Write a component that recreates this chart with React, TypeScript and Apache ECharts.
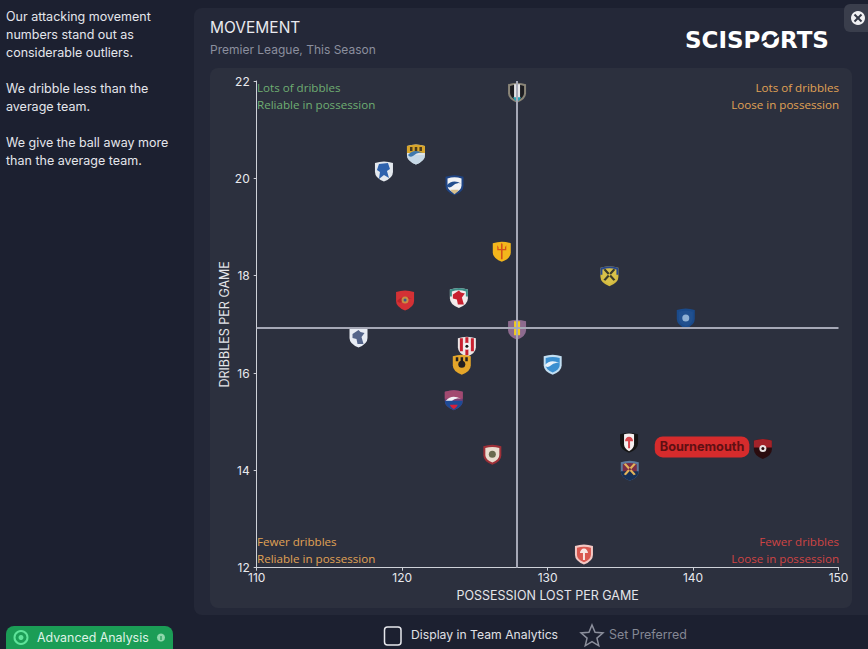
import React, { useEffect, useRef } from "react";
import * as echarts from "echarts";

const teams = ["Newcastle","Watford","Everton","Palace","United","Leeds","Arsenal","Liverpool","Chelsea","Spurs","Villa","Sunderland","Wolves","Brighton","Palace2","Brentford","Fulham","West Ham","Bournemouth","Forest"];
const possessionLost = [127.9,120.95,118.75,123.6,126.85,134.25,120.2,123.9,139.5,117.0,127.9,124.45,124.1,130.35,123.55,126.2,135.6,135.65,144.8,132.5];
const dribbles = [21.77,20.5,20.15,19.87,18.5,18.0,17.5,17.55,17.13,16.74,16.9,16.55,16.18,16.18,15.45,14.33,14.58,14.0,14.45,12.28];
const averagePossessionLost = 127.9;
const averageDribbles = 16.93;
const highlightTeam = "Bournemouth";
const sideNotes = ["Our attacking movement","numbers stand out as","considerable outliers.","","We dribble less than the","average team.","","We give the ball away more","than the average team."];

const SHAPES: Record<string, string> = {
  shield: "M-9 -8 Q0 -11 9 -8 L9 1 Q9 7 0 10.5 Q-9 7 -9 1 Z",
  inner: "M-7 -6.2 Q0 -8.5 7 -6.2 L7 .8 Q7 5.5 0 8.2 Q-7 5.5 -7 .8 Z",
  narrow: "M-5 -8 Q0 -9.5 5 -8 L5 2 Q5 6 0 9 Q-5 6 -5 2 Z",
  top: "M-9 -8 Q0 -11 9 -8 L9 -1 L-9 -1 Z",
  bottom: "M-9 1 L9 1 Q9 7 0 10.5 Q-9 7 -9 1 Z",
  tip: "M-4 5 L4 5 Q3 8 0 9.5 Q-3 8 -4 5 Z",
  stripes: "M-7 -8 h3 v13 h-3 z M-1.5 -9 h3 v18 h-3 z M4 -8 h3 v13 h-3 z",
  bar: "M-3 -8 h6 v14 h-6 z",
  dot: "M-3.5 0 a3.5 3.5 0 1 0 7 0 a3.5 3.5 0 1 0 -7 0 z",
  pip: "M-1.5 0 a1.5 1.5 0 1 0 3 0 a1.5 1.5 0 1 0 -3 0 z",
  trident: "M-.8 8 V-1 H-4.5 V-6 L-3.2 -4 V-2.4 H-.8 V-7 L0 -8.5 L.8 -7 V-2.4 H3.2 V-4 L4.5 -6 V-1 H.8 V8 Z",
  bird: "M-6 -3 L0 -7 L2 -5 L6 -4 L3 0 L5 7 L-1 7 L-2 2 L-6 1 Z",
  lion: "M-5 -7 L4 -8 L6 -2 L3 0 L5 7 L0 4 L-5 8 L-4 1 L-7 -1 Z",
  hammers: "M-6 -6 L-4 -7 L6 4 L4 5 Z M6 -6 L4 -7 L-6 4 L-4 5 Z",
  wave: "M-8 1 Q-2 -6 7 -1 Q2 -3 -3 2 Q-6 4 -8 1 Z",
  tree: "M-4 -1 a4 4.5 0 1 1 8 0 L1 -1 V6 h-2 V-1 Z",
  crown: "M-6 -7 h2.5 v4 h-2.5 z M-1.2 -7 h2.5 v4 h-2.5 z M3.5 -7 h2.5 v4 h-2.5 z",
};
Object.keys(SHAPES).forEach((k) => echarts.graphic.registerShape("crest_" + k, echarts.graphic.extendPath(SHAPES[k] as any, {}) as any));

const CRESTS: [string, string][][] = [
  [["shield","#8a8578"],["inner","#1c1c20"],["bar","#e4e4e6"],["tip","#2aa3b5"]],
  [["shield","#dfe3e6"],["top","#d8a52b"],["crown","#4a3a1c"],["bottom","#c6d8e6"],["wave","#3f78ad"]],
  [["shield","#e4e8ee"],["lion","#2f62ad"]],
  [["shield","#1f4484"],["inner","#f2f3f5"],["wave","#234f8f"],["tip","#d9c08c"]],
  [["shield","#f3b61c"],["trident","#d4511a"]],
  [["shield","#d4bb40"],["top","#27468d"],["inner","#d8c14a"],["hammers","#3a3a2a"]],
  [["shield","#d33135"],["wave","#b92329"],["dot","#c78f45"],["pip","#3a5a8c"]],
  [["shield","#f0e8e8"],["top","#3f8f88"],["inner","#f3ecec"],["bird","#c8202f"]],
  [["shield","#1a4a8a"],["inner","#21508f"],["dot","#8fb0d4"]],
  [["shield","#e8ecf4"],["bird","#54648a"]],
  [["shield","#8d6a8e"],["bar","#f0cc22"]],
  [["shield","#ece6e6"],["stripes","#c8202f"],["dot","#f4f4f4"],["pip","#1b1b1b"]],
  [["shield","#e5a62a"],["dot","#231f20"],["crown","#231f20"]],
  [["shield","#c2def2"],["inner","#3b8fd0"],["wave","#e8f2fa"]],
  [["shield","#7a3f76"],["top","#a24a70"],["wave","#f2f2f6"],["bottom","#1d4a96"],["tip","#d6213a"]],
  [["shield","#9e3038"],["inner","#e9ddcf"],["dot","#6a6a4e"]],
  [["shield","#141414"],["narrow","#f5efef"],["tree","#d9474d"]],
  [["shield","#5d7a9e"],["inner","#7a2d45"],["bottom","#173056"],["hammers","#e3b35a"]],
  [["shield","#2a0b0e"],["top","#a3232a"],["dot","#e9e3e3"],["pip","#2a0b0e"]],
  [["shield","#f3c8c4"],["inner","#d95850"],["tree","#f7e6e3"]],
];

const UI = "Inter, 'Noto Sans', sans-serif";
const PLOT = "'Open Sans', Inter, sans-serif";

function txt(x: number, y: number, text: string, color: string, size: number, extra: any = {}) {
  const { align, weight, font } = extra;
  return { type: "text", x, y, silent: true, style: { text, fill: color, fontSize: size, fontFamily: font || UI, fontWeight: weight || 400, textAlign: align || "left", textVerticalAlign: "middle", verticalAlign: "middle" } };
}
function box(x: number, y: number, width: number, height: number, fill: string, r = 0, z = -10, stroke?: string) {
  return { type: "rect", z, silent: true, shape: { x, y, width, height, r }, style: { fill, stroke, lineWidth: stroke ? 1.5 : 0 } };
}

export default function App() {
  const ref = useRef<HTMLDivElement>(null);
  useEffect(() => {
    document.body.style.margin = "0";
    const chart = echarts.init(ref.current!, undefined, { renderer: "svg" });
    const sideLineY = [16.5, 34.5, 52.5, 70.5, 88.5, 106.5, 124.5, 142.5, 160.5];
    const starPts: number[][] = [];
    for (let i = 0; i < 10; i++) {
      const a = -Math.PI / 2 + (i * Math.PI) / 5;
      const r = i % 2 ? 5.2 : 11.5;
      starPts.push([592 + r * Math.cos(a), 636.5 + r * Math.sin(a)]);
    }
    const highlightIndex = teams.indexOf(highlightTeam);
    chart.setOption({
      animation: false,
      backgroundColor: "#1c2030",
      grid: { left: 256.7, right: 868 - 838.5, top: 81, height: 486.7, containLabel: false },
      xAxis: {
        type: "value", min: 110, max: 150, interval: 10,
        name: "POSSESSION LOST PER GAME", nameLocation: "middle", nameGap: 21,
        nameTextStyle: { color: "#e4e5ea", fontSize: 12.5, fontFamily: UI },
        axisLine: { lineStyle: { color: "#cfd1d8", width: 1 } },
        axisTick: { show: true, length: 3, lineStyle: { color: "#cfd1d8" } },
        axisLabel: { color: "#e8e9ee", fontSize: 12, fontFamily: UI, margin: 4 },
        splitLine: { show: false },
      },
      yAxis: {
        type: "value", min: 12, max: 22, interval: 2,
        name: "DRIBBLES PER GAME", nameLocation: "middle", nameGap: 26, nameRotate: 90, nameMoveOverlap: false,
        nameTextStyle: { color: "#e4e5ea", fontSize: 12.5, fontFamily: UI },
        axisLine: { show: true, lineStyle: { color: "#cfd1d8", width: 1 } },
        axisTick: { show: true, length: 3, lineStyle: { color: "#cfd1d8" } },
        axisLabel: { color: "#e8e9ee", fontSize: 12, fontFamily: UI, margin: 7 },
        splitLine: { show: false },
      },
      graphic: [
        box(0, 0, 868, 649, "#1c2030"),
        box(194, 8, 690, 607, "#242838", 8),
        box(210, 68, 642, 540, "#2c303e", 8),
        ...sideNotes.map((s, i) => txt(6, sideLineY[i], s, "#e4e6ec", 12.5)),
        txt(210, 27, "MOVEMENT", "#e9eaef", 15.5),
        txt(210, 49.5, "Premier League, This Season", "#8b8f9e", 12),
        txt(685, 39.5, "SCISPORTS", "#ffffff", 23, { weight: 700, font: "'DejaVu Sans', sans-serif" }),
        { type: "bezierCurve", silent: true, z: 1, shape: { x1: 761, y1: 44, cpx1: 767, cpy1: 37, cpx2: 772, cpy2: 43, x2: 779, y2: 35 }, style: { stroke: "#242838", lineWidth: 2, fill: "none" } },
        box(844, 4, 30, 28, "#3a3e4c", 6, 1),
        { type: "circle", silent: true, z: 2, shape: { cx: 858, cy: 18, r: 7 }, style: { fill: "#f1f1f3" } },
        { type: "line", silent: true, z: 3, shape: { x1: 854.5, y1: 14.5, x2: 861.5, y2: 21.5 }, style: { stroke: "#343846", lineWidth: 2 } },
        { type: "line", silent: true, z: 3, shape: { x1: 861.5, y1: 14.5, x2: 854.5, y2: 21.5 }, style: { stroke: "#343846", lineWidth: 2 } },
        txt(257, 87.5, "Lots of dribbles", "#6fae72", 11.6, { font: PLOT }),
        txt(257, 104.5, "Reliable in possession", "#6fae72", 11.6, { font: PLOT }),
        txt(839, 87.5, "Lots of dribbles", "#e0a255", 11.6, { align: "right", font: PLOT }),
        txt(839, 104.5, "Loose in possession", "#e0a255", 11.6, { align: "right", font: PLOT }),
        txt(257, 541.5, "Fewer dribbles", "#e0a255", 11.6, { font: PLOT }),
        txt(257, 558.5, "Reliable in possession", "#e0a255", 11.6, { font: PLOT }),
        txt(839, 541.5, "Fewer dribbles", "#cf4444", 11.6, { align: "right", font: PLOT }),
        txt(839, 558.5, "Loose in possession", "#cf4444", 11.6, { align: "right", font: PLOT }),
        box(6, 626, 167, 30, "#1b9d56", 8, 1),
        { type: "circle", silent: true, z: 2, shape: { cx: 21, cy: 637.5, r: 6.5 }, style: { fill: "#1b9d56", stroke: "#5fe39a", lineWidth: 2 } },
        { type: "circle", silent: true, z: 2, shape: { cx: 21, cy: 637.5, r: 2.5 }, style: { fill: "#5fe39a" } },
        { ...txt(37, 637, "Advanced Analysis", "#dff3e6", 12.4), z: 2 },
        { type: "circle", silent: true, z: 2, shape: { cx: 161, cy: 637.5, r: 4 }, style: { fill: "#8fd8ac" } },
        { type: "line", silent: true, z: 3, shape: { x1: 161, y1: 636, x2: 161, y2: 640 }, style: { stroke: "#1b9d56", lineWidth: 1.2 } },
        box(384.5, 627, 16.5, 18, "none", 3, 1, "#e6e7ec"),
        txt(411, 634.5, "Display in Team Analytics", "#e0e1e6", 12.2),
        { type: "polygon", silent: true, shape: { points: starPts }, style: { fill: "none", stroke: "#8c8f9c", lineWidth: 1.5 } },
        txt(609, 634.5, "Set Preferred", "#858894", 12.4),
      ],
      series: [
        {
          type: "scatter", name: "averages", z: 1, data: [], silent: true,
          markLine: {
            silent: true, symbol: "none", animation: false, label: { show: false },
            lineStyle: { color: "#a6a8b6", width: 2, type: "solid", opacity: 1 },
            data: [{ xAxis: averagePossessionLost }, { yAxis: averageDribbles }],
          },
        },
        {
          type: "custom", name: "teams", z: 4, clip: false,
          encode: { x: 0, y: 1 },
          data: possessionLost.map((x, i) => [x, dribbles[i], i]),
          renderItem: (_: any, api: any) => {
            const [cx, cy] = api.coord([api.value(0), api.value(1)]);
            const layers = CRESTS[api.value(2)];
            return {
              type: "group", x: cx, y: cy,
              children: layers.map(([k, color]) => ({ type: "crest_" + k, style: { fill: color } })),
            };
          },
        },
        {
          type: "scatter", name: highlightTeam, z: 5, symbolSize: 1,
          itemStyle: { color: "rgba(0,0,0,0)", opacity: 1 },
          data: [[possessionLost[highlightIndex], dribbles[highlightIndex]]],
          label: {
            show: true, position: "left", distance: 13, offset: [0, -1.5], formatter: highlightTeam,
            color: "#5f1013", fontSize: 12.7, fontWeight: 700, fontFamily: UI, opacity: 1,
            backgroundColor: "#d62b2c", borderRadius: 8, padding: [4, 5, 4, 5],
          },
        },
      ],
    });
    return () => chart.dispose();
  }, []);
  return <div ref={ref} style={{ position: "fixed", left: 0, top: 0, width: 868, height: 649 }} />;
}
